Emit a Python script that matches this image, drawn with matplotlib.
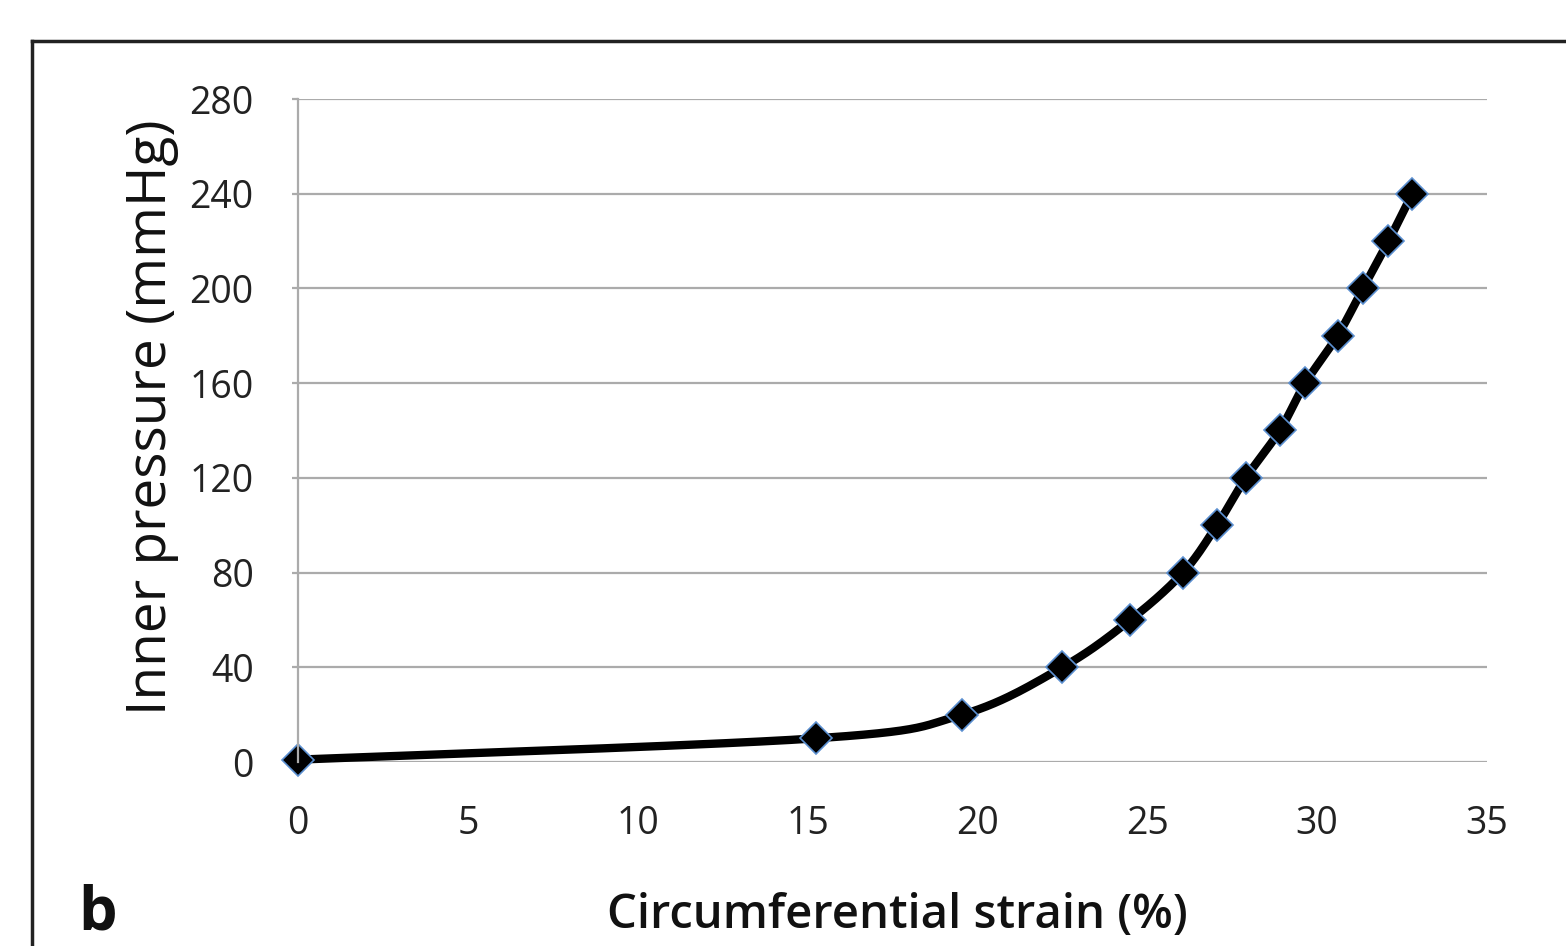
import numpy as np
import matplotlib.pyplot as plt
from matplotlib.lines import Line2D

plt.rcParams['font.family'] = ['Open Sans', 'DejaVu Sans']

# circumferential strain (%) vs inner pressure (mmHg)
strain = [0.0, 15.25, 19.55, 22.5, 24.5, 26.05, 27.05, 27.9, 28.9, 29.65, 30.6, 31.35, 32.1, 32.8]
pressure = [1, 10, 20, 40, 60, 80, 100, 120, 140, 160, 180, 200, 220, 240]

x_ticks = [0, 5, 10, 15, 20, 25, 30, 35]
y_ticks = [0, 40, 80, 120, 160, 200, 240, 280]


def smooth_path(px, py, n=30):
    # Catmull-Rom style smoothing through points (display space)
    pts = np.column_stack([px, py])
    pts = np.vstack([pts[0], pts, pts[-1]])
    out = []
    for i in range(1, len(pts) - 2):
        p0, p1, p2, p3 = pts[i - 1], pts[i], pts[i + 1], pts[i + 2]
        c1 = p1 + (p2 - p0) / 6.0
        c2 = p2 - (p3 - p1) / 6.0
        t = np.linspace(0, 1, n)[:, None]
        seg = ((1 - t) ** 3) * p1 + 3 * ((1 - t) ** 2) * t * c1 + 3 * (1 - t) * t ** 2 * c2 + t ** 3 * p2
        out.append(seg if i == 1 else seg[1:])
    return np.vstack(out)


fig = plt.figure(figsize=(15.66, 9.46), dpi=100)
ax = fig.add_axes([298 / 1566, 1 - 762 / 946, (1487 - 298) / 1566, (762 - 99) / 946])

ax.set_xlim(0, 35)
ax.set_ylim(0, 280)
ax.set_xticks(x_ticks)
ax.set_yticks(y_ticks)
ax.yaxis.grid(True, color='#ababab', linewidth=1.6)
ax.set_axisbelow(True)
for s in ['top', 'right', 'bottom']:
    ax.spines[s].set_visible(False)
ax.spines['left'].set_color('#ababab')
ax.spines['left'].set_linewidth(1.6)
ax.tick_params(axis='y', length=4, width=1.6, color='#ababab', labelsize=27, pad=28,
               labelcolor='#222222')
ax.tick_params(axis='x', length=0, labelsize=27, pad=31, labelcolor='#222222')

# smooth line computed in display space
disp = ax.transData.transform(np.column_stack([strain, pressure]))
curve = smooth_path(disp[:, 0], disp[:, 1])
curve = ax.transData.inverted().transform(curve)
ax.plot(curve[:, 0], curve[:, 1], color='black', linewidth=6, solid_capstyle='round', clip_on=False)
ax.plot(strain, pressure, linestyle='none', marker='D', markersize=16,
        markerfacecolor='black', markeredgecolor='#5b8fd0', markeredgewidth=1.2, clip_on=False)

fig.text(897 / 1566, 1 - 915 / 946, 'Circumferential strain (%)', fontsize=34,
         fontweight='semibold', ha='center', va='center', color='#111111')
fig.text(152 / 1566, 1 - 417 / 946, 'Inner pressure (mmHg)', fontsize=39.5,
         rotation=90, ha='center', va='center', color='#111111')
fig.text(78 / 1566, 1 - 914 / 946, 'b', fontsize=44, fontweight='bold', ha='left', va='center',
         color='#111111')

# outer panel frame
fig.add_artist(Line2D([32 / 1566, 32 / 1566], [0, 1 - 41 / 946], color='#222222', linewidth=2.5))
fig.add_artist(Line2D([32 / 1566, 1], [1 - 41 / 946, 1 - 41 / 946], color='#222222', linewidth=2.5))

fig.savefig('out.png', dpi=100)
